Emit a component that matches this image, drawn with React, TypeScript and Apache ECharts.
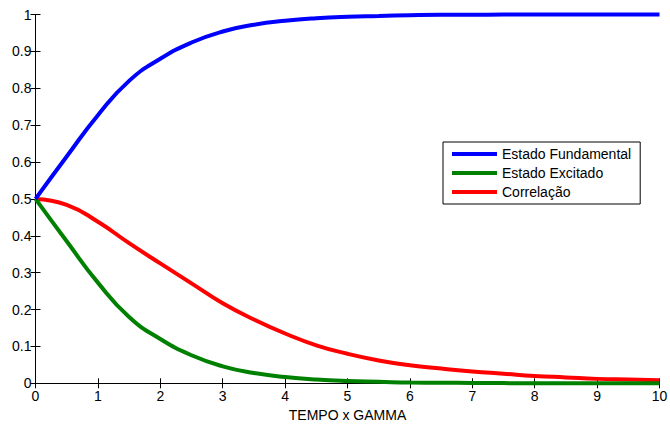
import React, { useEffect, useRef } from "react";
import * as echarts from "echarts";

const tempo = [0, 0.5, 1, 1.5, 2, 2.5, 3, 3.5, 4, 4.5, 5, 5.5, 6, 6.5, 7, 7.5, 8, 8.5, 9, 9.5, 10];
const fundamental = [0.5, 0.615, 0.727, 0.82, 0.88, 0.924, 0.954, 0.972, 0.983, 0.99, 0.994, 0.996, 0.998, 0.999, 0.999, 1, 1, 1, 1, 1, 1];
const excitado = [0.5, 0.385, 0.273, 0.18, 0.12, 0.076, 0.046, 0.028, 0.017, 0.01, 0.006, 0.004, 0.002, 0.0015, 0.001, 0.0005, 0, 0, 0, 0, 0];
const correlacao = [0.5, 0.484, 0.438, 0.38, 0.325, 0.271, 0.217, 0.173, 0.135, 0.103, 0.08, 0.062, 0.049, 0.04, 0.032, 0.026, 0.02, 0.016, 0.012, 0.01, 0.008];

const seriesNames = ["Estado Fundamental", "Estado Excitado", "Correlação"];
const seriesColors = ["#0000ff", "#008000", "#ff0000"];
const xName = "TEMPO x GAMMA";

const FONT = "'Liberation Sans', Arial, Helvetica, sans-serif";

export default function App() {
  const ref = useRef<HTMLDivElement>(null);
  useEffect(() => {
    if (!ref.current) return;
    const chart = echarts.init(ref.current, null, { renderer: "svg" });
    const pair = (ys: number[]) => tempo.map((t, i) => [t, ys[i]]);
    const axisCommon = {
      axisLine: { show: true, lineStyle: { color: "#000", width: 1 } },
      axisTick: { show: true, inside: true, length: 5, lineStyle: { color: "#000", width: 1 } },
      splitLine: { show: false },
    };
    const datasets = [fundamental, excitado, correlacao];
    chart.setOption({
      animation: false,
      backgroundColor: "#fff",
      textStyle: { fontFamily: FONT },
      grid: { left: 35.5, right: 10.5, top: 14.5, bottom: 42.7, containLabel: false, outerBoundsMode: "none" },
      legend: {
        orient: "vertical",
        left: 443,
        top: 142,
        padding: [5, 9, 5, 9],
        itemGap: 5,
        itemWidth: 45,
        itemHeight: 4,
        icon: "rect",
        borderColor: "#000",
        borderWidth: 1,
        backgroundColor: "#fff",
        textStyle: { fontSize: 14, color: "#000", fontFamily: FONT },
        data: seriesNames,
      },
      xAxis: [
        {
          type: "value",
          min: 0,
          max: 10,
          interval: 1,
          position: "bottom",
          ...axisCommon,
          axisLabel: { fontSize: 14, color: "#000", margin: 6, fontFamily: FONT },
          name: xName,
          nameLocation: "middle",
          nameGap: 24,
          nameTextStyle: { fontSize: 14, color: "#000", fontFamily: FONT },
        },
        {
          type: "value",
          min: 0,
          max: 10,
          interval: 1,
          position: "top",
          ...axisCommon,
          axisLabel: { show: false },
        },
      ],
      yAxis: [
        {
          type: "value",
          min: 0,
          max: 1,
          interval: 0.1,
          position: "left",
          ...axisCommon,
          axisLabel: { fontSize: 14, color: "#000", margin: 4, fontFamily: FONT },
        },
        {
          type: "value",
          min: 0,
          max: 1,
          interval: 0.1,
          position: "right",
          ...axisCommon,
          axisLabel: { show: false },
        },
      ],
      series: datasets.map((ys, i) => ({
        name: seriesNames[i],
        type: "line",
        data: pair(ys),
        smooth: true,
        showSymbol: false,
        symbol: "none",
        clip: false,
        lineStyle: { color: seriesColors[i], width: 4 },
        itemStyle: { color: seriesColors[i] },
        z: 3 - i,
      })),
    });
    return () => chart.dispose();
  }, []);
  return (
    <div
      ref={ref}
      style={{ position: "fixed", left: 0, top: 0, width: 670, height: 426 }}
    />
  );
}
